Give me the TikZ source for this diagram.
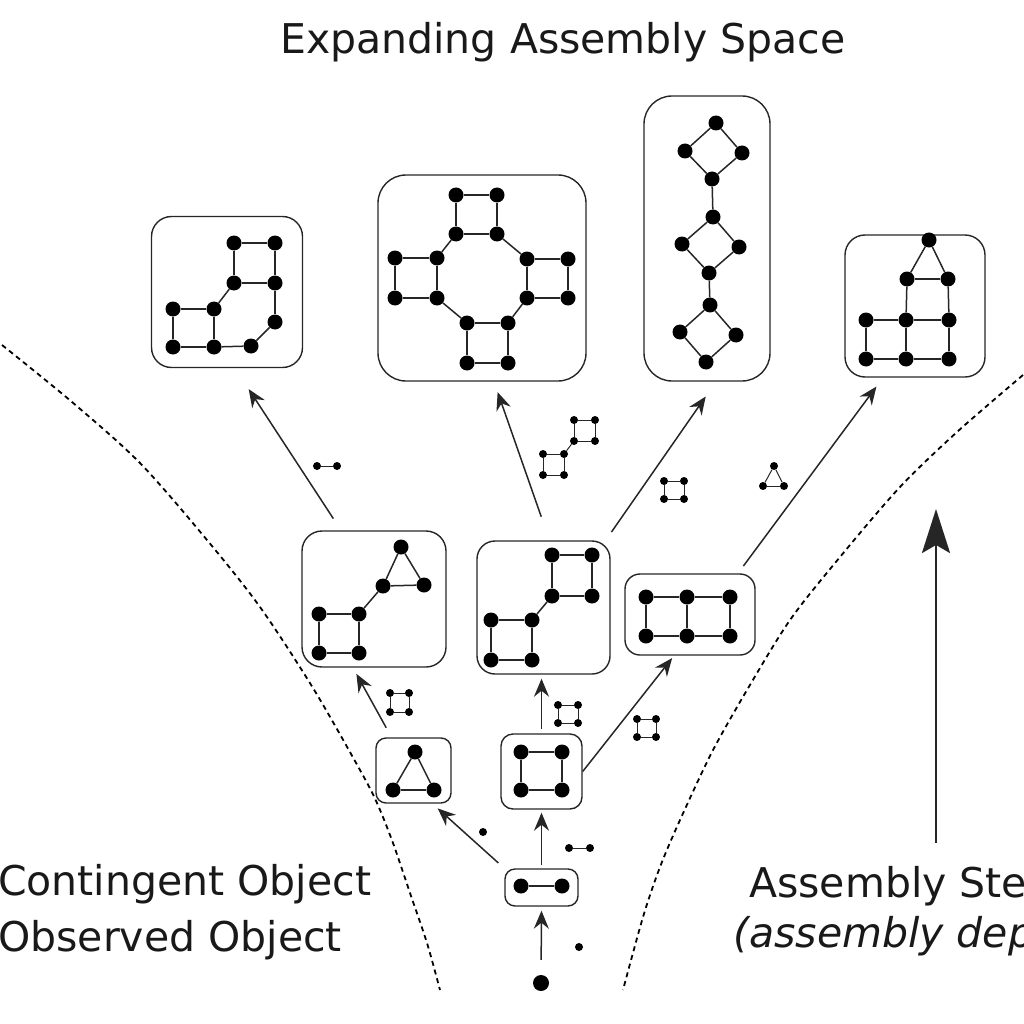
\documentclass[tikz,border=0pt]{standalone}
\usepackage{fontspec}
\setmainfont{DejaVu Sans}
\usetikzlibrary{arrows.meta,positioning}
\definecolor{inkgray}{gray}{0.15}

\tikzset{
  atom/.style={circle, fill=black, inner sep=0pt, minimum size=15pt},
  bit/.style={circle, fill=black, inner sep=0pt, minimum size=8pt},
  bond/.style={draw=inkgray, line width=1.5pt},
  thinbond/.style={draw=inkgray, line width=1pt},
  objbox/.style={draw=inkgray, line width=1.4pt, rectangle, inner sep=0pt},
  boundary/.style={draw=black, line width=1.8pt, dash pattern=on 5pt off 4pt},
  stepline/.style={draw=inkgray, line width=1.5pt, -{Stealth[length=18pt,width=15pt,inset=6pt]}},
  label/.style={anchor=base west, inner sep=0pt, text=black!90, font=\fontsize{41}{48}\selectfont}
}

\begin{document}
\begin{tikzpicture}[x=1pt, y=-1pt]
  \useasboundingbox (0,0) rectangle (1024,1024);

  \node [label] (title) at (280,54) {Expanding Assembly Space};
  \node [label] (contingent) at (-2,895) {Contingent Object};
  \node [label] (observed) at (-2,951) {Observed Object};
  \node [label] (steps) at (749,897) {Assembly Ste};
  \node [label] (depth) at (733,947) {\itshape (assembly dep};

  \draw [boundary] plot [smooth] coordinates {(2,345) (72,402) (140,463) (207,540) (260,607) (313,688) (360,770) (377,803) (393,843) (410,893) (427,943) (440,990)};
  \draw [boundary] plot [smooth] coordinates {(1023,375) (957,432) (900,487) (840,557) (790,620) (747,690) (712,752) (680,820) (660,867) (643,917) (623,990)};

  \node [objbox, minimum width=151pt, minimum height=151pt, rounded corners=20pt] (ringL) at (227,292) {};
  \node [objbox, minimum width=208pt, minimum height=206pt, rounded corners=28pt] (ringO) at (482,278) {};
  \node [objbox, minimum width=126pt, minimum height=285pt, rounded corners=28pt] (chain) at (707,238.5) {};
  \node [objbox, minimum width=140pt, minimum height=142pt, rounded corners=20pt] (tower) at (915,306) {};
  \node [objbox, minimum width=144pt, minimum height=136pt, rounded corners=20pt] (triTail) at (374,599) {};
  \node [objbox, minimum width=133pt, minimum height=133pt, rounded corners=18pt] (squareTail) at (543.5,607.5) {};
  \node [objbox, minimum width=130pt, minimum height=81pt, rounded corners=15pt] (ladder) at (690,614.5) {};
  \node [objbox, minimum width=75pt, minimum height=65pt, rounded corners=10pt] (tri) at (413.5,770.5) {};
  \node [objbox, minimum width=81pt, minimum height=75pt, rounded corners=12pt] (square) at (541.5,771.5) {};
  \node [objbox, minimum width=73pt, minimum height=37pt, rounded corners=10pt] (pair) at (541.5,887.5) {};
  \node [atom, minimum size=16pt] (single) at (541,983) {};

  \foreach \n/\x/\y in {
    l1/234/243, l2/275/243, l3/234/283, l4/275/283, l5/275/322, l6/251/346, l7/214/347, l8/173/347, l9/173/309, l10/214/309,
    o1/456/195, o2/497/195, o3/456/234, o4/497/234, o5/395/258, o6/437/258, o7/395/298, o8/437/298,
    o9/527/259, o10/568/259, o11/527/298, o12/568/298, o13/467/323, o14/508/323, o15/467/363, o16/508/363,
    c1/716/123, c2/685/151, c3/742/153, c4/712/179, c5/713/217, c6/682/244, c7/739/247, c8/709/273,
    c9/710/305, c10/680/332, c11/736/335, c12/706/362,
    t1/929/240, t2/907/279, t3/948/279, t4/866/320, t5/906/320, t6/949/320, t7/866/359, t8/906/359, t9/949/359,
    e1/401/547, e2/383/586, e3/424/585, e4/359/614, e5/319/614, e6/319/653, e7/359/653,
    f1/552/555, f2/592/555, f3/552/596, f4/592/596, f5/532/620, f6/491/620, f7/491/660, f8/532/660,
    g1/646/597, g2/687/597, g3/730/597, g4/646/636, g5/687/636, g6/730/636,
    h1/415/752, h2/393/790, h3/434/790,
    i1/521/752, i2/562/752, i3/521/790, i4/562/790,
    j1/521/886, j2/562/886}
    \node [atom] (\n) at (\x,\y) {};

  \foreach \p/\q in {
    l1/l2, l1/l3, l2/l4, l3/l4, l4/l5, l5/l6, l6/l7, l7/l8, l8/l9, l9/l10, l10/l7, l10/l3,
    o1/o2, o1/o3, o2/o4, o3/o4, o4/o9, o9/o11, o11/o14, o14/o13, o13/o8, o8/o6, o6/o3,
    o5/o6, o5/o7, o7/o8, o9/o10, o10/o12, o11/o12, o13/o15, o14/o16, o15/o16,
    c1/c2, c1/c3, c2/c4, c3/c4, c4/c5, c5/c6, c5/c7, c6/c8, c7/c8, c8/c9, c9/c10, c9/c11, c10/c12, c11/c12,
    t1/t2, t1/t3, t2/t3, t2/t5, t3/t6, t4/t5, t5/t6, t4/t7, t5/t8, t6/t9, t7/t8, t8/t9,
    e1/e2, e1/e3, e2/e3, e2/e4, e4/e5, e5/e6, e6/e7, e4/e7,
    f1/f2, f1/f3, f2/f4, f3/f4, f3/f5, f5/f6, f6/f7, f7/f8, f5/f8,
    g1/g2, g2/g3, g4/g5, g5/g6, g1/g4, g2/g5, g3/g6,
    h1/h2, h1/h3, h2/h3,
    i1/i2, i1/i3, i2/i4, i3/i4,
    j1/j2}
    \draw [bond] (\p) -- (\q);

  \foreach \n/\x/\y in {
    u1/317/466, u2/337/466,
    v1/574/420, v2/595/420, v3/574/441, v4/595/441, v5/543/454, v6/564/454, v7/543/475, v8/564/475,
    w1/664/481, w2/684/481, w3/664/499, w4/684/499,
    y1/774/466, y2/763/486, y3/784/486,
    q1/390/693, q2/409/693, q3/390/712, q4/409/712,
    r1/558/705, r2/578/705, r3/558/723, r4/578/723,
    s1/637/719, s2/656/719, s3/637/737, s4/656/737,
    z1/483/832, z2/579/947,
    n1/569/848, n2/590/848}
    \node [bit] (\n) at (\x,\y) {};

  \foreach \p/\q in {
    u1/u2,
    v1/v2, v1/v3, v2/v4, v3/v4, v3/v6, v5/v6, v5/v7, v6/v8, v7/v8,
    w1/w2, w1/w3, w2/w4, w3/w4,
    y1/y2, y1/y3, y2/y3,
    q1/q2, q1/q3, q2/q4, q3/q4,
    r1/r2, r1/r3, r2/r4, r3/r4,
    s1/s2, s1/s3, s2/s4, s3/s4,
    n1/n2}
    \draw [thinbond] (\p) -- (\q);

  \draw [stepline, shorten <=15pt, shorten >=4pt] (single) -- (pair.south);
  \draw [stepline, shorten <=3pt, shorten >=3pt] (pair.north) -- (square.south);
  \draw [stepline, shorten <=8pt, shorten >=7pt] (pair.north west) -- ([xshift=19pt]tri.south);
  \draw [stepline, shorten <=4pt, shorten >=4pt] (square.north) -- ([xshift=-2pt]squareTail.south);
  \draw [stepline, shorten >=3pt] (square.east) -- ([xshift=-16pt]ladder.south);
  \draw [stepline, shorten <=11pt, shorten >=7pt] ([xshift=-22pt]tri.north) -- ([xshift=-21pt]triTail.south);
  \draw [stepline, shorten <=14pt, shorten >=25pt] ([xshift=-33pt]triTail.north) -- ([xshift=8pt]ringL.south);
  \draw [stepline, shorten <=25pt, shorten >=11pt] ([xshift=6pt]squareTail.north) -- ([xshift=12pt]ringO.south);
  \draw [stepline, shorten <=10pt, shorten >=18pt] ([xshift=-5pt]squareTail.north east) -- ([xshift=9pt]chain.south);
  \draw [stepline, shorten <=9pt, shorten >=11pt] ([xshift=48pt]ladder.north) -- ([xshift=-32pt]tower.south);

  \coordinate (depthfoot) at (936,843);
  \coordinate (depthtip) at (936,509);
  \draw [draw=inkgray, line width=2.6pt, -{Stealth[length=44pt,width=28pt,inset=8pt]}] (depthfoot) -- (depthtip);
\end{tikzpicture}
\end{document}
